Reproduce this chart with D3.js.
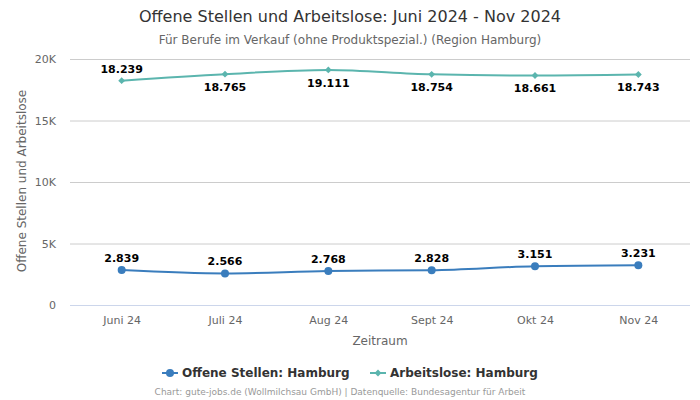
<!DOCTYPE html>
<html><head><meta charset="utf-8">
<script src="https://cdn.jsdelivr.net/npm/d3@7"></script>
<style>body{margin:0;background:#fff;font-family:"DejaVu Sans",sans-serif;}</style>
</head><body><svg id="c" width="700" height="400"></svg>
<script>
const categories = ["Juni 24","Juli 24","Aug 24","Sept 24","Okt 24","Nov 24"];
const offeneStellen = [2839,2566,2768,2828,3151,3231];
const arbeitslose = [18239,18765,19111,18754,18661,18743];
const yTicks = [0,5000,10000,15000,20000];
const yTickLabels = ["0","5K","10K","15K","20K"];
const seriesNames = ["Offene Stellen: Hamburg","Arbeitslose: Hamburg"];
const colors = ["#3a7dbd","#5bb5ae"];

const svg = d3.select("#c");
const L=70,R=690,T=59,B=305;
const x = d3.scalePoint().domain(categories).range([L,R]).padding(0.5);
const y = d3.scaleLinear().domain([0,20000]).range([B,T]);
const fmt = d3.formatLocale({decimal:",",thousands:".",grouping:[3]}).format(",d");

svg.append("text").attr("x",350).attr("y",22).attr("text-anchor","middle")
  .attr("font-size",16).attr("fill","#333").text("Offene Stellen und Arbeitslose: Juni 2024 - Nov 2024");
svg.append("text").attr("x",350).attr("y",44).attr("text-anchor","middle")
  .attr("font-size",12).attr("fill","#666").text("Für Berufe im Verkauf (ohne Produktspezial.) (Region Hamburg)");

const yAxis = d3.axisLeft(y).tickValues(yTicks).tickSize(-(R-L)).tickFormat((d,i)=>yTickLabels[i]);
const ga = svg.append("g").attr("transform",`translate(${L},0)`).call(yAxis);
ga.select(".domain").remove();
ga.selectAll(".tick line").attr("stroke","#ccc");
ga.selectAll(".tick line").filter(d=>d===0).attr("stroke","#ccd6eb");
ga.selectAll(".tick text").attr("x",-14).attr("font-size",11).attr("fill","#666").attr("font-family","DejaVu Sans");

const xAxis = d3.axisBottom(x).tickSize(0);
const gx = svg.append("g").attr("transform",`translate(0,${B})`).call(xAxis);
gx.select(".domain").remove();
gx.selectAll(".tick text").attr("dy",0).attr("y",19).attr("font-size",11).attr("fill","#666").attr("font-family","DejaVu Sans");

svg.append("text").attr("transform","translate(26,181) rotate(-90)").attr("text-anchor","middle")
  .attr("font-size",12).attr("fill","#666").text("Offene Stellen und Arbeitslose");
svg.append("text").attr("x",380).attr("y",345).attr("text-anchor","middle")
  .attr("font-size",12).attr("fill","#666").text("Zeitraum");

const line = d3.line().x((d,i)=>x(categories[i])).y(d=>y(d)).curve(d3.curveMonotoneX);
const series = [offeneStellen, arbeitslose];
series.forEach((s,si)=>{
  svg.append("path").attr("d",line(s)).attr("fill","none").attr("stroke",colors[si]).attr("stroke-width",2);
  s.forEach((v,i)=>{
    const cx=x(categories[i]), cy=y(v);
    if(si===0) svg.append("circle").attr("cx",cx).attr("cy",cy).attr("r",4).attr("fill",colors[si]);
    else svg.append("path").attr("d",d3.symbol(d3.symbolDiamond2,30)()).attr("transform",`translate(${cx},${cy})`).attr("fill",colors[si]);
    const below = cy-20 < T;
    svg.append("text").attr("x",cx).attr("y",below?cy+17:cy-8).attr("text-anchor","middle")
      .attr("font-size",11).attr("font-weight","bold").attr("fill","#000")
      .attr("stroke","#fff").attr("stroke-width",2).attr("paint-order","stroke").attr("stroke-linejoin","round")
      .text(fmt(v));
  });
});

const lg = svg.append("g");
const items=[{x:162},{x:370}];
items.forEach((it,i)=>{
  lg.append("line").attr("x1",it.x).attr("x2",it.x+16).attr("y1",373).attr("y2",373).attr("stroke",colors[i]).attr("stroke-width",2);
  if(i===0) lg.append("circle").attr("cx",it.x+8).attr("cy",373).attr("r",4).attr("fill",colors[i]);
  else lg.append("path").attr("d",d3.symbol(d3.symbolDiamond2,30)()).attr("transform",`translate(${it.x+8},373)`).attr("fill",colors[i]);
  lg.append("text").attr("x",it.x+20).attr("y",377).attr("font-size",12).attr("font-weight","bold").attr("fill","#333").text(seriesNames[i]);
});
svg.append("text").attr("x",340).attr("y",395).attr("text-anchor","middle")
  .attr("font-size",9).attr("fill","#999").text("Chart: gute-jobs.de (Wollmilchsau GmbH) | Datenquelle: Bundesagentur für Arbeit");
</script></body></html>
